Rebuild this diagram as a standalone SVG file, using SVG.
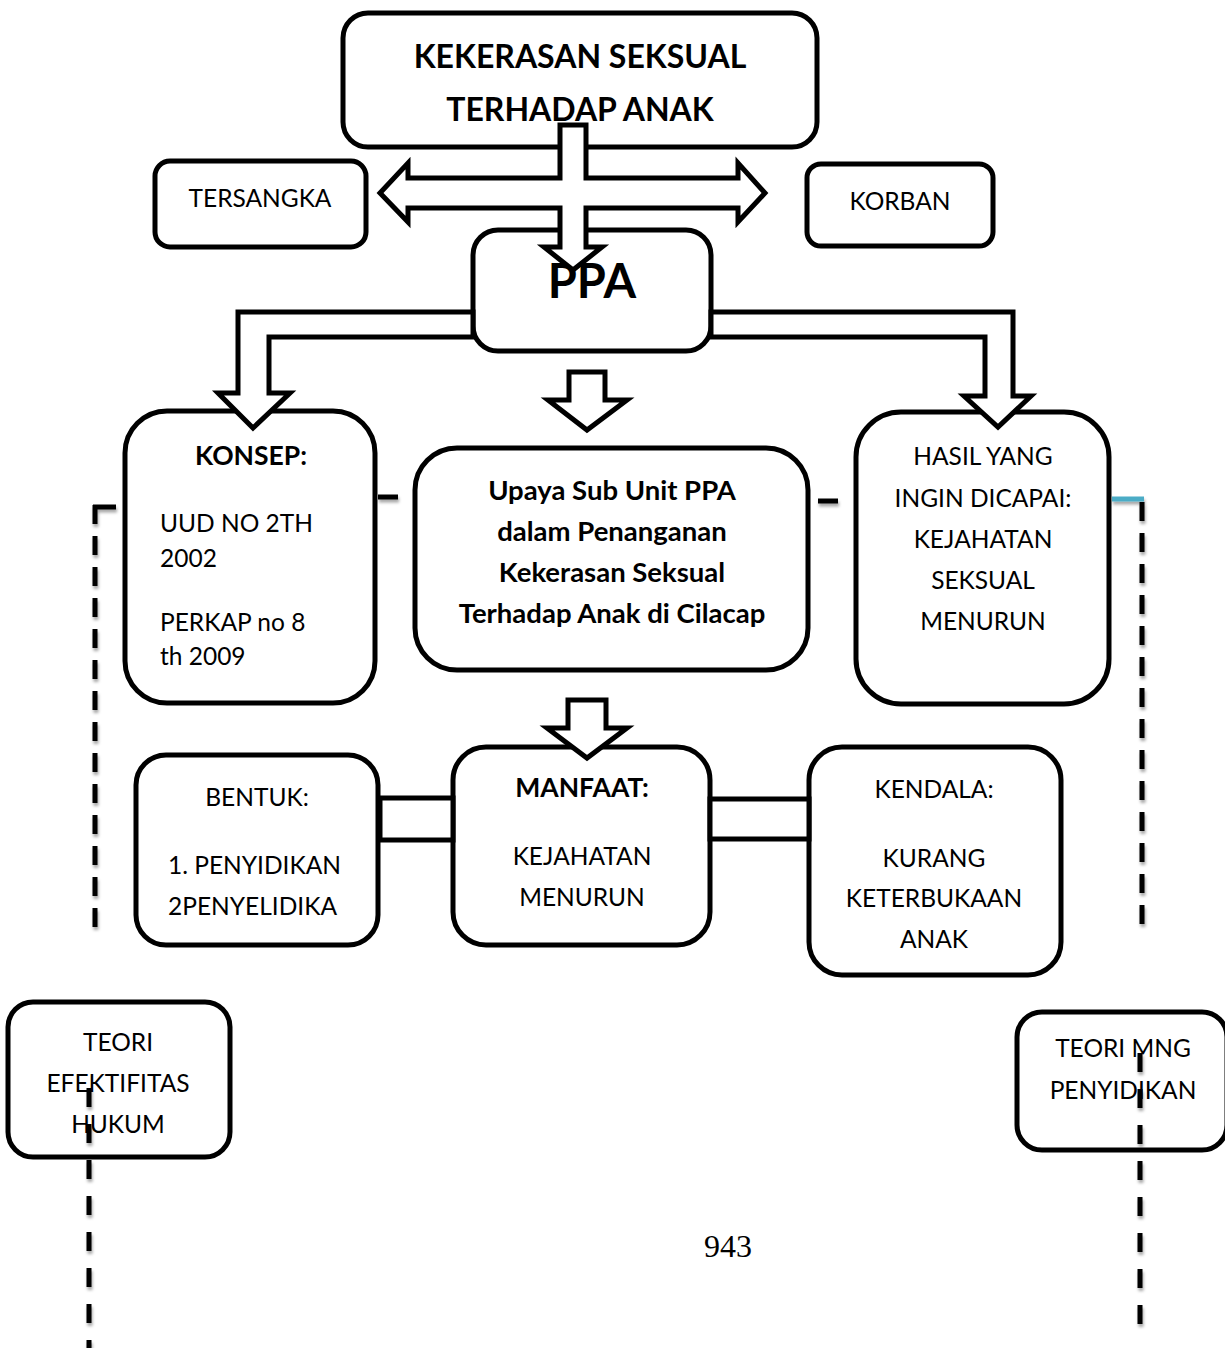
<svg xmlns="http://www.w3.org/2000/svg" width="1225" height="1348" viewBox="0 0 1225 1348">
<defs>
<style>
.box{fill:#fff;stroke:#000;stroke-width:5}
.con{fill:#fff;stroke:#000;stroke-width:5;stroke-linejoin:miter}
.t{font-family:Lato,"Open Sans","Liberation Sans",sans-serif;font-size:24.5px;fill:#000}
.c{text-anchor:middle}
.b{font-weight:bold;font-size:26.5px}
.u{font-weight:bold;font-size:27.5px}
.dash{fill:none;stroke:#000;stroke-width:5;stroke-dasharray:19 12}
.dash2{fill:none;stroke:#000;stroke-width:5;stroke-dasharray:19 17}
.solid{fill:none;stroke:#000;stroke-width:5}
</style>
<filter id="sh" x="-50%" y="-10%" width="200%" height="120%">
<feDropShadow dx="1" dy="3" stdDeviation="1.5" flood-color="#000" flood-opacity="0.35"/>
</filter>
</defs>
<rect width="1225" height="1348" fill="#fff"/>

<g id="title">
<rect class="box" x="343" y="13" width="474" height="134" rx="25"/>
<text class="t c b" x="580" y="68" style="font-size:32px">KEKERASAN SEKSUAL</text>
<text class="t c b" x="580" y="121" style="font-size:32px">TERHADAP ANAK</text>
</g>
<g id="tersangka">
<rect class="box" x="155" y="161" width="211" height="86" rx="15"/>
<text class="t c" x="260" y="207">TERSANGKA</text>
</g>
<g id="korban">
<rect class="box" x="807" y="164" width="186" height="82" rx="14"/>
<text class="t c" x="900" y="210">KORBAN</text>
</g>
<g id="ppa">
<rect class="box" x="473" y="230" width="238" height="121" rx="25"/>
<text class="t c b" x="592" y="298" style="font-size:47px">PPA</text>
</g>
<g id="konsep">
<rect class="box" x="125" y="411" width="250" height="292" rx="42"/>
<text class="t c b" x="251" y="465">KONSEP:</text>
<text class="t" x="160" y="532">UUD NO 2TH</text>
<text class="t" x="160" y="567">2002</text>
<text class="t" x="160" y="631">PERKAP no 8</text>
<text class="t" x="160" y="665">th 2009</text>
</g>
<g id="upaya">
<rect class="box" x="415" y="448" width="393" height="222" rx="42"/>
<text class="t c u" x="612" y="500">Upaya Sub Unit PPA</text>
<text class="t c u" x="612" y="541">dalam Penanganan</text>
<text class="t c u" x="612" y="582">Kekerasan Seksual</text>
<text class="t c u" x="612" y="623">Terhadap Anak di Cilacap</text>
</g>
<g id="hasil">
<rect class="box" x="856" y="412" width="253" height="292" rx="45"/>
<text class="t c" x="983" y="465">HASIL YANG</text>
<text class="t c" x="983" y="507">INGIN DICAPAI:</text>
<text class="t c" x="983" y="548">KEJAHATAN</text>
<text class="t c" x="983" y="589">SEKSUAL</text>
<text class="t c" x="983" y="630">MENURUN</text>
</g>
<g id="bentuk">
<rect class="box" x="136" y="755" width="242" height="190" rx="30"/>
<text class="t c" x="257" y="806">BENTUK:</text>
<text class="t" x="168" y="874">1. PENYIDIKAN</text>
<text class="t" x="168" y="915">2PENYELIDIKA</text>
</g>
<g id="manfaat">
<rect class="box" x="453" y="747" width="257" height="198" rx="33"/>
<text class="t c b" x="582" y="797">MANFAAT:</text>
<text class="t c" x="582" y="865">KEJAHATAN</text>
<text class="t c" x="582" y="906">MENURUN</text>
</g>
<g id="kendala">
<rect class="box" x="809" y="747" width="252" height="228" rx="33"/>
<text class="t c" x="934" y="798">KENDALA:</text>
<text class="t c" x="934" y="867">KURANG</text>
<text class="t c" x="934" y="907">KETERBUKAAN</text>
<text class="t c" x="934" y="948">ANAK</text>
</g>
<g id="teori-efektifitas">
<rect class="box" x="8" y="1002" width="222" height="155" rx="25"/>
<text class="t c" x="118" y="1051">TEORI</text>
<text class="t c" x="118" y="1092">EFEKTIFITAS</text>
<text class="t c" x="118" y="1133">HUKUM</text>
</g>
<g id="teori-mng">
<rect class="box" x="1017" y="1012" width="210" height="138" rx="25"/>
<text class="t c" x="1123" y="1057">TEORI MNG</text>
<text class="t c" x="1123" y="1099">PENYIDIKAN</text>
</g>
<g id="page-number">
<text x="728" y="1257" text-anchor="middle" style="font-family:'Liberation Serif',serif;font-size:32px">943</text>
</g>

<g id="connectors">
<polygon class="con" points="560,125 586,125 586,178 738,178 738,163 765,193 738,222 738,208 586,208 586,247 602,247 573,270 544,247 560,247 560,208 408,208 408,222 380,193 408,163 408,178 560,178"/>
<polygon class="con" points="473,312 238,312 238,393 218,393 253,428 290,393 269,393 269,337 473,337"/>
<polygon class="con" points="711,312 1013,312 1013,396 1031,396 998,427 964,396 985,396 985,337 711,337"/>
<polygon class="con" points="569,372 605,372 605,400 627,400 587,430 548,400 569,400"/>
<polygon class="con" points="568,700 606,700 606,728 627,728 587,758 547,728 568,728"/>
<rect class="con" x="380" y="798" width="73" height="42"/>
<rect class="con" x="710" y="799" width="99" height="40"/>
<g filter="url(#sh)">
<line class="solid" x1="378" y1="497" x2="398" y2="497"/>
<line class="solid" x1="818" y1="501" x2="838" y2="501"/>
<line class="solid" x1="93" y1="507" x2="116" y2="507"/>
<line class="dash" x1="95" y1="505" x2="95" y2="935"/>
<line class="dash2" x1="89" y1="1088" x2="89" y2="1348"/>
<line fill="none" stroke="#4BACC6" stroke-width="5" x1="1112" y1="499" x2="1144" y2="499"/>
<line class="dash" x1="1142" y1="502" x2="1142" y2="935"/>
<line class="dash2" x1="1140" y1="1053" x2="1140" y2="1326"/>
</g>
</g>
</svg>
